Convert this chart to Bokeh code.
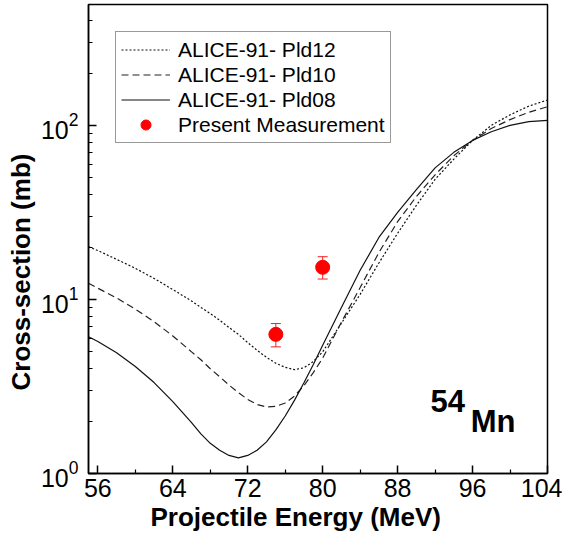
from bokeh.plotting import figure
from bokeh.models import (FixedTicker, Legend, LegendItem, Whisker, ColumnDataSource,
                          Label, Title, TeeHead)
from bokeh.embed import file_html
from bokeh.resources import INLINE

# ---- data ----
energy = [55, 56, 58, 60, 62, 64, 66, 67, 68, 69, 70, 71, 72, 73, 74, 75, 76, 77, 78, 79, 80,
          82, 84, 86, 88, 90, 92, 94, 96, 98, 100, 102, 104]
pld12 = [20.1, 19.1, 17.0, 15.1, 13.2, 11.4, 9.8, 9.0, 8.3, 7.6, 6.9, 6.3, 5.65, 5.1, 4.65,
         4.3, 4.07, 3.95, 4.05, 4.4, 5.0, 7.3, 10.7, 16.2, 24, 34.7, 49, 64, 82, 100, 115,
         129, 140]
pld10 = [12.4, 11.6, 10.2, 8.8, 7.45, 6.17, 5.0, 4.5, 4.0, 3.6, 3.22, 2.92, 2.66, 2.49, 2.41,
         2.43, 2.54, 2.79, 3.2, 3.8, 4.6, 7.4, 11.7, 18.6, 28, 39, 52, 67, 82, 96, 108,
         119, 128]
pld08 = [6.1, 5.73, 4.94, 4.12, 3.33, 2.59, 1.96, 1.69, 1.49, 1.36, 1.27, 1.23, 1.27, 1.36,
         1.52, 1.78, 2.14, 2.64, 3.32, 4.23, 5.45, 9.0, 14.7, 22.7, 31.6, 42.7, 57, 70, 82,
         92, 100, 105, 107]

meas_energy = [75, 80]
meas_xs = [6.3, 15.3]
meas_lo = [5.34, 13.1]
meas_hi = [7.27, 17.6]

x_ticks = [56, 64, 72, 80, 88, 96, 104]
x_minor = [60, 68, 76, 84, 92, 100]
y_ticks = [1, 10, 100]
y_minor = [2, 3, 4, 5, 6, 7, 8, 9, 20, 30, 40, 50, 60, 70, 80, 90, 200, 300, 400, 500]

FONT = "Liberation Sans"

p = figure(width=562, height=542, x_range=(55, 104), y_range=(1, 495),
           y_axis_type="log", output_backend="svg", toolbar_location=None,
           min_border_left=88, min_border_right=15, min_border_top=4,
           min_border_bottom=69)
p.xgrid.visible = False
p.ygrid.visible = False
p.outline_line_color = "black"
p.outline_line_width = 1.5

r12 = p.line(energy, pld12, line_dash="2 2", line_width=1.2, line_color="#111111")
r10 = p.line(energy, pld10, line_dash="7 4", line_width=1.2, line_color="#222222")
r08 = p.line(energy, pld08, line_width=1.2, line_color="#111111")

src = ColumnDataSource(dict(e=meas_energy, xs=meas_xs, lo=meas_lo, hi=meas_hi))
wh = Whisker(source=src, base="e", upper="hi", lower="lo", dimension="height",
             line_color="#ee2222", line_width=1,
             upper_head=TeeHead(size=10, line_color="#ee2222", line_width=1),
             lower_head=TeeHead(size=10, line_color="#ee2222", line_width=1))
p.add_layout(wh)
rpts = p.scatter("e", "xs", source=src, size=14, color="#ff0000")

for ax, ticks, minor in ((p.xaxis[0], x_ticks, x_minor), (p.yaxis[0], y_ticks, y_minor)):
    ax.ticker = FixedTicker(ticks=ticks, minor_ticks=minor)
    ax.major_tick_in = 8
    ax.major_tick_out = 0
    ax.minor_tick_in = 4
    ax.minor_tick_out = 0
    ax.axis_line_width = 1.5
    ax.axis_line_color = "black"
    ax.major_tick_line_color = "black"
    ax.minor_tick_line_color = "black"
    ax.major_tick_line_width = 1.5
    ax.minor_tick_line_width = 1.2
    ax.major_label_text_font = FONT
    ax.major_label_text_font_size = "25px"
    ax.major_label_text_color = "black"
    ax.axis_label = None

p.xaxis[0].major_label_standoff = 5
p.yaxis[0].major_label_standoff = 10

ty = Title(text="Cross-section (mb)", align="left", offset=83,
           text_font_size="26px", text_font_style="bold", text_font=FONT,
           text_color="black", standoff=4)
p.add_layout(ty, "left")
tx = Title(text="Projectile Energy (MeV)", align="left", offset=62,
           text_font_size="26px", text_font_style="bold", text_font=FONT,
           text_color="black", standoff=0)
p.add_layout(tx, "below")

legend = Legend(items=[
    LegendItem(label="ALICE-91- Pld12", renderers=[r12]),
    LegendItem(label="ALICE-91- Pld10", renderers=[r10]),
    LegendItem(label="ALICE-91- Pld08", renderers=[r08]),
    LegendItem(label="Present Measurement", renderers=[rpts]),
], location="top_left")
legend.label_text_font = FONT
legend.label_text_font_size = "21px"
legend.label_text_color = "black"
legend.glyph_width = 49
legend.glyph_height = 25
legend.label_height = 25
legend.spacing = 0
legend.padding = 5
legend.margin = 27
legend.label_standoff = 8
legend.border_line_color = "#333333"
legend.border_line_width = 1
p.add_layout(legend)

p.add_layout(Label(x=91.5, y=2.61, text="54", text_font=FONT, text_font_size="31px",
                   text_font_style="bold", text_baseline="alphabetic", text_color="black"))
p.add_layout(Label(x=95.8, y=1.98, text="Mn", text_font=FONT, text_font_size="31px",
                   text_font_style="bold", text_baseline="alphabetic", text_color="black"))

open("out.html", "w").write(file_html(p, INLINE))
